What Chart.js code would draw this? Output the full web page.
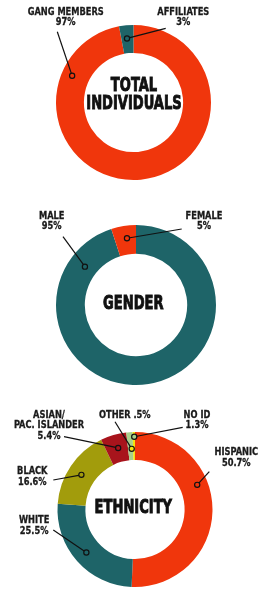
<!DOCTYPE html>
<html><head><meta charset="utf-8">
<script src="https://cdn.jsdelivr.net/npm/chart.js@4"></script>
<style>
html,body{margin:0;padding:0;background:#fff;width:268px;height:600px;overflow:hidden}
canvas{display:block}
</style></head><body>
<canvas id="c1" width="268" height="190"></canvas>
<canvas id="c2" width="268" height="205"></canvas>
<canvas id="c3" width="268" height="205"></canvas>
<script>
// ---------- DATA ----------
const totalCategories = ['GANG MEMBERS', 'AFFILIATES'];
const totalValues = [97, 3];
const totalPctLabels = ['97%', '3%'];

const genderCategories = ['MALE', 'FEMALE'];
const genderValues = [95, 5];
const genderPctLabels = ['95%', '5%'];

const ethnicityCategories = ['HISPANIC', 'WHITE', 'BLACK', 'ASIAN/\nPAC. ISLANDER', 'NO ID', 'OTHER'];
const ethnicityValues = [50.7, 25.5, 16.6, 5.4, 1.3, 0.5];
const ethnicityPctLabels = ['50.7%', '25.5%', '16.6%', '5.4%', '1.3%', '.5%'];

const centerTitles = [['TOTAL', 'INDIVIDUALS'], ['GENDER'], ['ETHNICITY']];

// ---------- STYLE ----------
const RED = '#f0360c', TEAL = '#1e6468', OLIVE = '#a29c0c', DARKRED = '#a8141c', LGREEN = '#a7d08b', YELLOW = '#f3e40c';
const LABEL_FONT = '"DejaVu Sans Condensed", "DejaVu Sans", sans-serif';
const labelSize = 10.5, labelLine = 10.6, labelScaleX = 0.875, labelStroke = 0.3;
const titleSize = 19.5, titleLine = 18.2, titleScaleX = 0.745, titleStroke = 0.9;

function drawText(ctx, t, x, y, sx, sw) {
  ctx.save(); ctx.translate(x, y); ctx.scale(sx, 1);
  ctx.fillText(t, 0, 0);
  if (sw > 0) { ctx.lineWidth = sw; ctx.lineJoin = 'miter'; ctx.strokeStyle = ctx.fillStyle; ctx.strokeText(t, 0, 0); }
  ctx.restore();
}

const annotPlugin = {
  id: 'annot',
  afterDraw(chart) {
    const o = chart.options.plugins.annot;
    const ctx = chart.ctx;
    const meta = chart.getDatasetMeta(0);
    const a0 = meta.data[0];
    const cx = a0.x, cy = a0.y, R = a0.outerRadius, r = a0.innerRadius;
    const cats = chart.data.labels;
    const colors = chart.data.datasets[0].backgroundColor;
    ctx.save();
    // center title
    ctx.fillStyle = '#111';
    ctx.textAlign = 'center'; ctx.textBaseline = 'middle';
    ctx.font = 'bold ' + titleSize + 'px ' + LABEL_FONT;
    o.title.forEach((t, i) => {
      drawText(ctx, t, cx + o.titleDx, cy + o.titleDy + i * titleLine, titleScaleX, titleStroke);
    });
    // labels
    ctx.font = 'bold ' + labelSize + 'px ' + LABEL_FONT;
    o.items.forEach(it => {
      const idx = it.index;
      let lines = cats[idx].split('\n');
      if (it.inline) lines[lines.length - 1] += ' ' + o.pct[idx];
      else lines.push(o.pct[idx]);
      ctx.fillStyle = '#1a1a1a';
      lines.forEach((t, i) => drawText(ctx, t, it.tx, it.ty + i * labelLine, labelScaleX, labelStroke));
      const ang = it.angle * Math.PI / 180;
      const rr = r + it.f * (R - r);
      const dx = cx + rr * Math.sin(ang), dy = cy - rr * Math.cos(ang);
      ctx.strokeStyle = '#111'; ctx.lineWidth = 1.2;
      ctx.beginPath(); ctx.moveTo(it.lx, it.ly); ctx.lineTo(dx, dy); ctx.stroke();
      ctx.beginPath(); ctx.arc(dx, dy, 2.6, 0, Math.PI * 2);
      ctx.fillStyle = colors[idx]; ctx.fill(); ctx.stroke();
    });
    ctx.restore();
  }
};

function makeChart(id, cats, vals, colors, pad, annot) {
  return new Chart(document.getElementById(id), {
    type: 'doughnut',
    data: { labels: cats, datasets: [{ data: vals, backgroundColor: colors, borderWidth: 0, hoverOffset: 0 }] },
    options: {
      responsive: false, animation: false, cutout: '64%',
      layout: { padding: pad },
      plugins: { legend: { display: false }, tooltip: { enabled: false }, annot: annot }
    },
    plugins: [annotPlugin]
  });
}

makeChart('c1', totalCategories, totalValues, [RED, TEAL],
  { left: 56, right: 57, top: 25, bottom: 10 },
  { title: centerTitles[0], titleDx: 0.5, titleDy: -17, pct: totalPctLabels,
    items: [
      { index: 0, tx: 65.7, ty: 12, lx: 57.3, ly: 31.7, angle: 293.5, f: 0.62 },
      { index: 1, tx: 183.3, ty: 12, lx: 165.7, ly: 28.3, angle: 354.2, f: 0.53 }
    ] });

makeChart('c2', genderCategories, genderValues, [TEAL, RED],
  { left: 56, right: 52, top: 35, bottom: 10 },
  { title: centerTitles[1], titleDx: -2.7, titleDy: -0.7, pct: genderPctLabels,
    items: [
      { index: 0, tx: 51.7, ty: 26, lx: 63, ly: 46.7, angle: 306.9, f: 0.44 },
      { index: 1, tx: 204, ty: 26, lx: 181.7, ly: 39, angle: 352.3, f: 0.56 }
    ] });

makeChart('c3', ethnicityCategories, ethnicityValues, [RED, TEAL, OLIVE, DARKRED, LGREEN, YELLOW],
  { left: 57.5, right: 55.5, top: 37, bottom: 13 },
  { title: centerTitles[2], titleDx: -1.7, titleDy: -1.2, pct: ethnicityPctLabels,
    items: [
      { index: 0, tx: 236.3, ty: 57.3, lx: 209.3, ly: 76.7, angle: 68.4, f: 0.62 },
      { index: 1, tx: 34.2, ty: 125.7, lx: 53.3, ly: 135, angle: 228.5, f: 0.55 },
      { index: 2, tx: 32.3, ty: 76.7, lx: 53.3, ly: 85, angle: 302.9, f: 0.51 },
      { index: 3, tx: 49, ty: 20, lx: 64, ly: 41.7, angle: 344.7, f: 0.51 },
      { index: 4, tx: 197, ty: 20, lx: 182.7, ly: 32.3, angle: 359.4, f: 0.83 },
      { index: 5, tx: 124.8, ty: 20, lx: 115, ly: 26.7, angle: 356.9, f: 0.4, inline: true }
    ] });
</script>
</body></html>
